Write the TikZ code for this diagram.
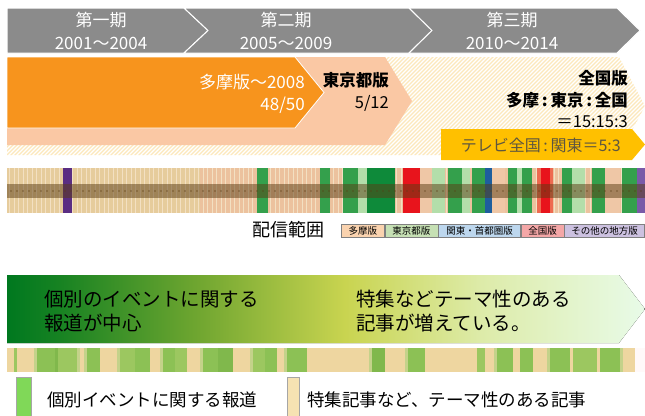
\documentclass[tikz,border=0pt]{standalone}
\usepackage{fontspec}
\setmainfont{Noto Sans CJK JP}
\definecolor{chgray}{HTML}{8B8B8B}
\definecolor{orsolid}{HTML}{F7941D}
\definecolor{ordot}{HTML}{FAC8A4}
\definecolor{hatch}{HTML}{FCE8BC}
\definecolor{gold}{HTML}{FFC000}
\definecolor{goldtext}{HTML}{5E5640}
\definecolor{tanA}{HTML}{E6CC9C}
\definecolor{tanB}{HTML}{ECC29E}
\definecolor{tanL}{HTML}{F3E0C2}
\definecolor{band}{HTML}{5A3C14}
\definecolor{gM}{HTML}{34A04C}
\definecolor{gD}{HTML}{0E8A3A}
\definecolor{gL}{HTML}{B3DEAA}
\definecolor{rR}{HTML}{E8141C}
\definecolor{rL}{HTML}{EE6A50}
\definecolor{bB}{HTML}{1E5E9E}
\definecolor{pP}{HTML}{5A2D82}
\definecolor{pL}{HTML}{7A5AA8}
\definecolor{pe}{HTML}{EFC7A6}
\definecolor{lgA}{HTML}{FAD3AF}
\definecolor{lgB}{HTML}{C6E0B4}
\definecolor{lgC}{HTML}{BDD7EE}
\definecolor{lgD}{HTML}{F4A7A7}
\definecolor{lgE}{HTML}{CCC1E0}
\definecolor{sA}{HTML}{00781F}
\definecolor{sB}{HTML}{168222}
\definecolor{sC}{HTML}{70A630}
\definecolor{sD}{HTML}{C9D450}
\definecolor{sE}{HTML}{DDEBA8}
\definecolor{sF}{HTML}{E8FBE8}
\definecolor{stT}{HTML}{EED6A0}
\definecolor{stG}{HTML}{8CC155}
\definecolor{stH}{HTML}{9CC760}
\definecolor{stK}{HTML}{80B84C}
\definecolor{stM}{HTML}{C4D28A}
\definecolor{legG}{HTML}{80D858}
\definecolor{legT}{HTML}{F6E2B2}
\pgfdeclarehorizontalshading{greenfade}{100bp}{color(0bp)=(sA); color(25bp)=(sA); color(29bp)=(sB); color(40bp)=(sC); color(51.5bp)=(sD); color(62bp)=(sE); color(75bp)=(sF); color(100bp)=(sF)}
\tikzset{
  chev/.style={fill=chgray, draw=white, line width=1pt},
  wtxt/.style={text=white, font=\fontsize{17}{17}\selectfont, inner sep=0pt},
  btxt/.style={text=black, font=\fontsize{16.5}{16.5}\selectfont, inner sep=0pt},
  bbold/.style={text=black, font=\bfseries\fontsize{16.5}{16.5}\selectfont, inner sep=0pt},
  bigtxt/.style={text=black, font=\fontsize{19.5}{19.5}\selectfont, inner sep=0pt, anchor=west},
  legtxt/.style={text=black, font=\fontsize{17.5}{17.5}\selectfont, inner sep=0pt, anchor=west},
  smallbox/.style={draw=black!50, line width=0.6pt, inner sep=0pt, minimum height=13pt, font=\fontsize{9.5}{9.5}\selectfont, anchor=west},
  legbox/.style={draw=black!35, line width=0.8pt}
}
\begin{document}
\begin{tikzpicture}[x=1pt,y=-1pt]
\useasboundingbox (0,0) rectangle (645,415);
\fill[white] (0,0) rectangle (645,415);
% top gray chevrons
\draw[chev] (7,8) -- (184,8) -- (208,30.5) -- (184,53) -- (7,53) -- cycle;
\draw[chev] (184,8) -- (409,8) -- (432,30.5) -- (409,53) -- (184,53) -- (208,30.5) -- cycle;
\draw[chev] (409,8) -- (617,8) -- (640,30.5) -- (617,53) -- (409,53) -- (432,30.5) -- cycle;
\node[wtxt] (p1) at (101,20) {第一期};
\node[wtxt] (y1) at (101,43) {2001〜2004};
\node[wtxt] (p2) at (286,20) {第二期};
\node[wtxt] (y2) at (286,43) {2005〜2009};
\node[wtxt] (p3) at (512,20) {第三期};
\node[wtxt] (y3) at (512,43) {2010〜2014};
% hatched chevron
\begin{scope}
\clip (7,57) -- (619,57) -- (645,106) -- (619,155) -- (7,155) -- cycle;
\foreach \i in {-110,-106,...,650} \draw[hatch, line width=1.2pt] (\i,160) -- (\i+108,52);
\end{scope}
% dotted chevron
\fill[ordot] (7,57) -- (385,57) -- (412,101) -- (385,145) -- (7,145) -- cycle;
% solid orange chevron
\draw[fill=orsolid, draw=white, line width=0.8pt] (7,57) -- (295,57) -- (324,92.5) -- (295,128) -- (7,128) -- cycle;
\node[wtxt, anchor=east] (tama) at (305,82) {多摩版〜2008};
\node[wtxt, anchor=east] (tamar) at (305,105) {48/50};
\node[bbold, anchor=east] (tokyo) at (389,80) {東京都版};
\node[btxt, anchor=east] (tokyor) at (389,103) {5/12};
\node[bbold, anchor=east] (zenkoku) at (628,78) {全国版};
\node[bbold, anchor=east] (ratio) at (628,100) {多摩\,:\,東京\,:\,全国};
\node[btxt, anchor=east] (ratio2) at (628,122) {＝15:15:3};
% gold box
\fill[gold] (441,129) -- (632,129) -- (645,144.5) -- (632,160) -- (441,160) -- cycle;
\node[btxt, text=goldtext, font=\fontsize{16}{16}\selectfont, anchor=east] (tv) at (621,145) {テレビ全国\,:\,関東＝5:3};
% colour bar
\fill[tanA] (7,168) rectangle (200,213);
\fill[tanB] (200,168) rectangle (645,213);
\foreach \i in {9,13.5,...,645} \fill[tanL] (\i,168) rectangle (\i+1.4,213);
\foreach \a/\b/\c in {63/72/pP, 257/268/gM, 320/330/gM, 343/358/gM, 358/367/gL, 367/395/gD, 403/420/rR, 420/432/pe, 432/445/gL, 448/462/gM, 462/470/gL, 472/485/gM, 485/492/bB, 492/505/pe, 508/517/gM, 517/522/gL, 522/532/gM, 537/541/rL, 541/550/rR, 550/553/rL, 562/572/gM, 572/585/gL, 592/605/gM, 605/620/pe, 622/637/gM, 637/645/pL}
  \fill[\c] (\a,168) rectangle (\b,213);
\fill[band, opacity=0.5] (7,184) rectangle (645,198);
\foreach \i in {10,16,...,640} \fill[band, opacity=0.3] (\i,190) rectangle (\i+2,192);
% legend for colour bar
\node[text=black, font=\fontsize{18}{18}\selectfont, inner sep=0pt] (haishin) at (288,230) {配信範囲};
\node[smallbox, fill=lgA, minimum width=43pt] (lA) at (341,231) {多摩版};
\node[smallbox, fill=lgB, minimum width=53pt] (lB) at (lA.east) {東京都版};
\node[smallbox, fill=lgC, minimum width=82pt] (lC) at (lB.east) {関東・首都圏版};
\node[smallbox, fill=lgD, minimum width=43pt] (lD) at (lC.east) {全国版};
\node[smallbox, fill=lgE, minimum width=80pt] (lE) at (lD.east) {その他の地方版};
% gradient chevron
\fill[shading=greenfade] (7,275) -- (619,275) -- (645,309) -- (619,343) -- (7,343) -- cycle;
\node[bigtxt] (t1) at (44,299) {個別のイベントに関する};
\node[bigtxt] (t2) at (44,323) {報道が中心};
\node[bigtxt] (t3) at (356,299) {特集などテーマ性のある};
\node[bigtxt] (t4) at (356,323) {記事が増えている。};
% stripe bar
\fill[stT] (7,348) rectangle (645,372);
\foreach \a/\b/\c in {14/17/stH, 34/37/stM, 37/55/stG, 55/58/stK, 58/77/stH, 77/80/stM, 84/87/stM, 87/100/stG, 117/120/stM, 120/135/stH, 135/150/stG, 160/163/stM, 163/175/stG, 175/187/stH, 200/203/stM, 203/218/stG, 218/233/stK, 250/253/stM, 253/265/stH, 265/277/stG, 284/287/stM, 287/307/stG, 369/372/stM, 372/385/stK, 405/408/stM, 408/425/stG, 477/485/stH, 494/497/stM, 497/513/stG, 520/533/stG, 547/550/stM, 550/570/stG, 573/597/stH, 600/620/stG, 620/623/stM}
  \fill[\c] (\a,348) rectangle (\b,372);
\fill[white!90!pink] (635,348) rectangle (645,372);
% bottom legend
\draw[legbox, fill=legG] (16,377) rectangle (31,416);
\node[legtxt] (lg1) at (47,400) {個別イベントに関する報道};
\draw[legbox, fill=legT] (287,377) rectangle (299,416);
\node[legtxt] (lg2) at (307,400) {特集記事など、テーマ性のある記事};
\end{tikzpicture}
\end{document}
